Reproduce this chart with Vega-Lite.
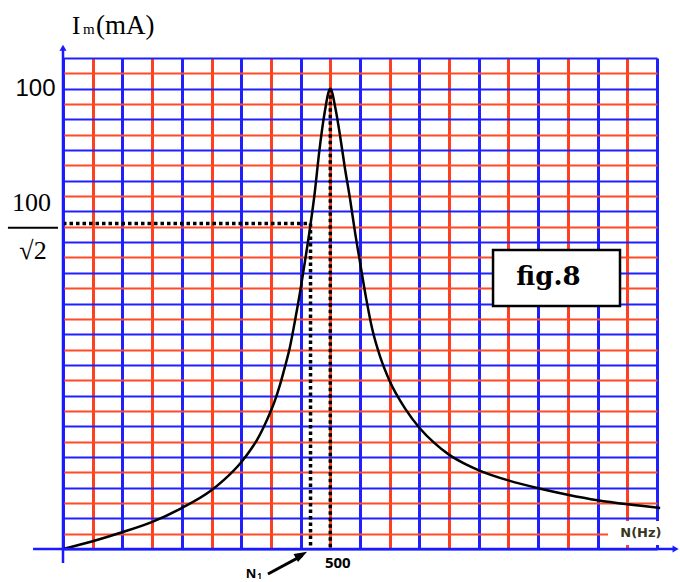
{
  "$schema": "https://vega.github.io/schema/vega-lite/v6.json",
  "autosize": {"type": "none"},
  "width": 594,
  "height": 491,
  "padding": {"left": 63, "top": 58, "right": 23, "bottom": 33},
  "background": "white",
  "config": {"view": {"stroke": null}},
  "layer": [
    {
      "data": {"values": [
        {"N": 0, "Im": 0},
        {"N": 55.6, "Im": 1.7},
        {"N": 112, "Im": 3.7},
        {"N": 167, "Im": 5.9},
        {"N": 222, "Im": 8.9},
        {"N": 277, "Im": 12.7},
        {"N": 300, "Im": 14.9},
        {"N": 333, "Im": 18.8},
        {"N": 350, "Im": 21.4},
        {"N": 363, "Im": 23.7},
        {"N": 375, "Im": 26.4},
        {"N": 387, "Im": 29.5},
        {"N": 395, "Im": 31.8},
        {"N": 406, "Im": 35.7},
        {"N": 415, "Im": 39.5},
        {"N": 424, "Im": 43.6},
        {"N": 433, "Im": 49.0},
        {"N": 443, "Im": 55.5},
        {"N": 453, "Im": 62.8},
        {"N": 463, "Im": 70.5},
        {"N": 471, "Im": 77.5},
        {"N": 479, "Im": 86.0},
        {"N": 489, "Im": 94.5},
        {"N": 500, "Im": 100},
        {"N": 510, "Im": 95.5},
        {"N": 518, "Im": 90.0},
        {"N": 527, "Im": 83.0},
        {"N": 537, "Im": 76.0},
        {"N": 546, "Im": 69.0},
        {"N": 556, "Im": 62.0},
        {"N": 567, "Im": 54.5},
        {"N": 578, "Im": 48.0},
        {"N": 594, "Im": 41.5},
        {"N": 611, "Im": 36.5},
        {"N": 640, "Im": 30.5},
        {"N": 667, "Im": 26.3},
        {"N": 695, "Im": 23.0},
        {"N": 722, "Im": 20.5},
        {"N": 750, "Im": 18.6},
        {"N": 778, "Im": 17.1},
        {"N": 833, "Im": 14.9},
        {"N": 889, "Im": 13.2},
        {"N": 944, "Im": 11.8},
        {"N": 1000, "Im": 10.6},
        {"N": 1056, "Im": 9.7},
        {"N": 1117, "Im": 8.9}
      ]},
      "mark": {"type": "line", "color": "black", "strokeWidth": 2.5, "interpolate": "monotone", "clip": false},
      "encoding": {
        "x": {
          "field": "N", "type": "quantitative",
          "scale": {"domain": [0, 1111.111], "nice": false, "zero": false},
          "axis": {
            "title": null, "labels": false, "ticks": false, "domain": false, "tickCount": 100,
            "values": [0, 55.556, 111.111, 166.667, 222.222, 277.778, 333.333, 388.889, 444.444, 500, 555.556, 611.111, 666.667, 722.222, 777.778, 833.333, 888.889, 944.444, 1000, 1055.556, 1111.111],
            "grid": true, "gridWidth": 3, "gridOpacity": 1,
            "gridColor": {"condition": {"test": "round(datum.value/55.5556) % 2 == 1", "value": "#ff4020"}, "value": "#2020ff"}
          }
        },
        "y": {
          "field": "Im", "type": "quantitative",
          "scale": {"domain": [0, 106.667], "nice": false, "zero": false},
          "axis": {
            "title": null, "ticks": false, "domain": false, "tickCount": 100, "labelOverlap": false,
            "values": [0, 3.333, 6.667, 10, 13.333, 16.667, 20, 23.333, 26.667, 30, 33.333, 36.667, 40, 43.333, 46.667, 50, 53.333, 56.667, 60, 63.333, 66.667, 70, 73.333, 76.667, 80, 83.333, 86.667, 90, 93.333, 96.667, 100, 103.333, 106.667],
            "labelExpr": "datum.value == 100 ? '100' : ''",
            "labelFont": "Liberation Sans", "labelFontSize": 24, "labelColor": "black", "labelPadding": 8,
            "grid": true, "gridWidth": 2, "gridOpacity": 1,
            "gridColor": {"condition": {"test": "round(datum.value/3.33333) % 2 == 1", "value": "#ff4a28"}, "value": "#2020ff"}
          }
        }
      }
    },
    {
      "data": {"values": [
        {"N": 0, "Im": 70.71, "N2": 463, "Im2": 70.71},
        {"N": 463, "Im": 70.71, "N2": 463, "Im2": 0},
        {"N": 500, "Im": 100, "N2": 500, "Im2": 0}
      ]},
      "mark": {"type": "rule", "color": "black", "strokeWidth": 3.5, "strokeDash": [3.5, 3], "clip": false},
      "encoding": {
        "x": {"field": "N", "type": "quantitative"},
        "y": {"field": "Im", "type": "quantitative"},
        "x2": {"field": "N2"},
        "y2": {"field": "Im2"}
      }
    },
    {
      "data": {"values": [{}]},
      "layer": [
        {
          "mark": {"type": "rule", "color": "#1a1aff", "strokeWidth": 2.5, "clip": false},
          "encoding": {
            "x": {"datum": -56, "type": "quantitative"},
            "x2": {"datum": 1145},
            "y": {"datum": 0, "type": "quantitative"}
          }
        },
        {
          "mark": {"type": "rule", "color": "#1a1aff", "strokeWidth": 2.5, "clip": false},
          "encoding": {
            "x": {"datum": 0, "type": "quantitative"},
            "y": {"datum": -3.04, "type": "quantitative"},
            "y2": {"datum": 108.6}
          }
        },
        {
          "mark": {"type": "point", "shape": "triangle-up", "filled": true, "color": "#1a1aff", "size": 50, "opacity": 1, "clip": false},
          "encoding": {
            "x": {"datum": 0, "type": "quantitative"},
            "y": {"datum": 108.9, "type": "quantitative"}
          }
        },
        {
          "mark": {"type": "point", "shape": "triangle-right", "filled": true, "color": "#1a1aff", "size": 50, "opacity": 1, "clip": false},
          "encoding": {
            "x": {"datum": 1146, "type": "quantitative"},
            "y": {"datum": 0, "type": "quantitative"}
          }
        },
        {
          "mark": {"type": "rect", "fill": "white", "stroke": null, "clip": false},
          "encoding": {
            "x": {"datum": 1019.5, "type": "quantitative"},
            "x2": {"datum": 1126},
            "y": {"datum": 6.08, "type": "quantitative"},
            "y2": {"datum": 0.87}
          }
        },
        {
          "mark": {"type": "text", "text": "N(Hz)", "font": "DejaVu Sans", "fontWeight": "bold", "fontSize": 13, "color": "#3a3520", "align": "center", "baseline": "middle", "clip": false},
          "encoding": {
            "x": {"datum": 1081, "type": "quantitative"},
            "y": {"datum": 3.48, "type": "quantitative"}
          }
        },
        {
          "mark": {"type": "rect", "fill": "white", "stroke": "black", "strokeWidth": 2.5, "clip": false},
          "encoding": {
            "x": {"datum": 804.4, "type": "quantitative"},
            "x2": {"datum": 1041.9},
            "y": {"datum": 64.97, "type": "quantitative"},
            "y2": {"datum": 52.8}
          }
        },
        {
          "mark": {"type": "text", "text": "fig.8", "font": "DejaVu Serif", "fontWeight": "bold", "fontSize": 26, "color": "black", "align": "center", "baseline": "alphabetic", "clip": false},
          "encoding": {
            "x": {"datum": 908, "type": "quantitative"},
            "y": {"datum": 57.4, "type": "quantitative"}
          }
        },
        {
          "mark": {"type": "text", "text": "100", "font": "Liberation Serif", "fontSize": 26, "color": "black", "align": "center", "baseline": "alphabetic", "dx": -31.5, "dy": -13, "clip": false},
          "encoding": {
            "x": {"datum": 0, "type": "quantitative"},
            "y": {"datum": 70.71, "type": "quantitative"}
          }
        },
        {
          "mark": {"type": "text", "text": "√2", "font": "Liberation Serif", "fontSize": 26, "color": "black", "align": "center", "baseline": "alphabetic", "dx": -30, "dy": 35, "clip": false},
          "encoding": {
            "x": {"datum": 0, "type": "quantitative"},
            "y": {"datum": 70.71, "type": "quantitative"}
          }
        },
        {
          "mark": {"type": "rule", "color": "black", "strokeWidth": 2, "clip": false},
          "encoding": {
            "x": {"datum": -103, "type": "quantitative"},
            "x2": {"datum": -9.4},
            "y": {"datum": 69.8, "type": "quantitative"}
          }
        },
        {
          "mark": {"type": "text", "text": "I", "font": "Liberation Serif", "fontSize": 25, "color": "black", "align": "left", "baseline": "alphabetic", "dx": 9, "dy": -24, "clip": false},
          "encoding": {
            "x": {"datum": 0, "type": "quantitative"},
            "y": {"datum": 106.667, "type": "quantitative"}
          }
        },
        {
          "mark": {"type": "text", "text": "m", "font": "Liberation Serif", "fontSize": 15, "color": "black", "align": "left", "baseline": "alphabetic", "dx": 20, "dy": -24, "clip": false},
          "encoding": {
            "x": {"datum": 0, "type": "quantitative"},
            "y": {"datum": 106.667, "type": "quantitative"}
          }
        },
        {
          "mark": {"type": "text", "text": "(mA)", "font": "Liberation Serif", "fontSize": 27, "color": "black", "align": "left", "baseline": "alphabetic", "dx": 33, "dy": -24, "clip": false},
          "encoding": {
            "x": {"datum": 0, "type": "quantitative"},
            "y": {"datum": 106.667, "type": "quantitative"}
          }
        },
        {
          "mark": {"type": "text", "text": "500", "font": "Open Sans", "fontWeight": "bold", "fontSize": 15, "color": "black", "align": "center", "baseline": "middle", "dx": 7.5, "dy": 14, "clip": false},
          "encoding": {
            "x": {"datum": 500, "type": "quantitative"},
            "y": {"datum": 0, "type": "quantitative"}
          }
        },
        {
          "mark": {"type": "text", "text": "N", "font": "Open Sans", "fontWeight": "bold", "fontSize": 13, "color": "black", "align": "center", "baseline": "middle", "dx": -59.5, "dy": 24.5, "clip": false},
          "encoding": {
            "x": {"datum": 463, "type": "quantitative"},
            "y": {"datum": 0, "type": "quantitative"}
          }
        },
        {
          "mark": {"type": "text", "text": "1", "font": "Open Sans", "fontWeight": "bold", "fontSize": 8, "color": "black", "align": "center", "baseline": "middle", "dx": -51, "dy": 27.5, "clip": false},
          "encoding": {
            "x": {"datum": 463, "type": "quantitative"},
            "y": {"datum": 0, "type": "quantitative"}
          }
        },
        {
          "mark": {"type": "rule", "color": "black", "strokeWidth": 3, "clip": false},
          "encoding": {
            "x": {"datum": 383.4, "type": "quantitative"},
            "x2": {"datum": 448},
            "y": {"datum": -5.43, "type": "quantitative"},
            "y2": {"datum": -1.4}
          }
        },
        {
          "mark": {"type": "point", "shape": "M0,-1L0.7,1L-0.7,1Z", "filled": true, "color": "black", "size": 169, "opacity": 1, "angle": 60.6, "clip": false},
          "encoding": {
            "x": {"datum": 446, "type": "quantitative"},
            "y": {"datum": -1.28, "type": "quantitative"}
          }
        }
      ]
    }
  ]
}
